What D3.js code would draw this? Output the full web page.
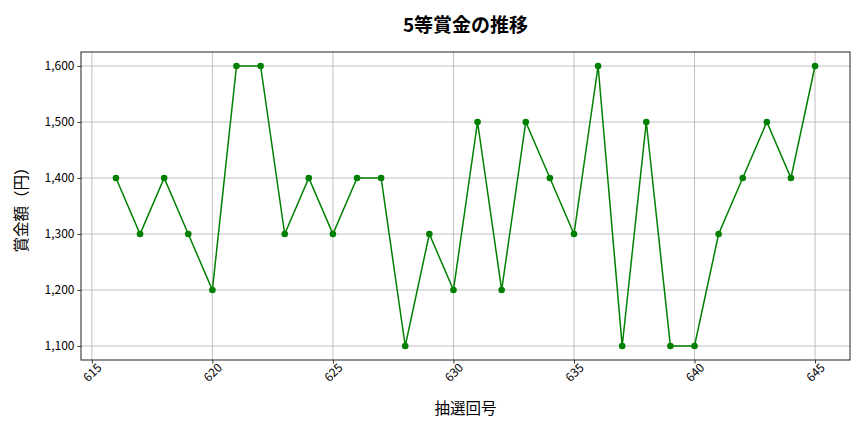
<!DOCTYPE html>
<html>
<head>
<meta charset="utf-8">
<title>5等賞金の推移</title>
<script src="https://d3js.org/d3.v7.min.js"></script>
<style>
  body { margin: 0; background: #fff; }
  text { font-family: "Noto Sans CJK JP", "Noto Sans", sans-serif; }
</style>
</head>
<body>
<div id="chart"></div>
<script>
// data
const draws = [616, 617, 618, 619, 620, 621, 622, 623, 624, 625,
               626, 627, 628, 629, 630, 631, 632, 633, 634, 635,
               636, 637, 638, 639, 640, 641, 642, 643, 644, 645];
const prizes = [1400, 1300, 1400, 1300, 1200, 1600, 1600, 1300, 1400, 1300,
                1400, 1400, 1100, 1300, 1200, 1500, 1200, 1500, 1400, 1300,
                1600, 1100, 1500, 1100, 1100, 1300, 1400, 1500, 1400, 1600];
const xTicks = [615, 620, 625, 630, 635, 640, 645];
const yTicks = [1100, 1200, 1300, 1400, 1500, 1600];

const W = 864, H = 432;
const margin = { top: 52, right: 14, bottom: 72, left: 81 };
const width = W - margin.left - margin.right;
const height = H - margin.top - margin.bottom;

const svg = d3.select('#chart').append('svg')
  .attr('width', W).attr('height', H);

// matplotlib-like 5% margins
const xPad = (d3.max(draws) - d3.min(draws)) * 0.05;
const yPad = (d3.max(prizes) - d3.min(prizes)) * 0.05;
const x = d3.scaleLinear()
  .domain([d3.min(draws) - xPad, d3.max(draws) + xPad])
  .range([0, width]);
const y = d3.scaleLinear()
  .domain([d3.min(prizes) - yPad, d3.max(prizes) + yPad])
  .range([height, 0]);

const g = svg.append('g')
  .attr('transform', `translate(${margin.left},${margin.top})`);

// grid
g.append('g').selectAll('line').data(xTicks).enter().append('line')
  .attr('x1', d => x(d)).attr('x2', d => x(d))
  .attr('y1', 0).attr('y2', height)
  .attr('stroke', '#b0b0b0').attr('stroke-width', 0.8);
g.append('g').selectAll('line').data(yTicks).enter().append('line')
  .attr('x1', 0).attr('x2', width)
  .attr('y1', d => y(d)).attr('y2', d => y(d))
  .attr('stroke', '#b0b0b0').attr('stroke-width', 0.8);

// axes
const xAxis = g.append('g')
  .attr('transform', `translate(0,${height})`)
  .call(d3.axisBottom(x).tickValues(xTicks).tickSize(3.5).tickFormat(d3.format('d')));
xAxis.selectAll('text')
  .attr('font-size', 12)
  .attr('fill', '#000')
  .attr('text-anchor', 'end')
  .attr('dx', '0.1em')
  .attr('dy', '0.55em')
  .attr('transform', 'rotate(-45)');

const yAxis = g.append('g')
  .call(d3.axisLeft(y).tickValues(yTicks).tickSize(3.5).tickFormat(d3.format(',')));
yAxis.selectAll('text').attr('font-size', 12).attr('fill', '#000');

svg.selectAll('.domain').remove();
svg.selectAll('.tick line').attr('stroke', '#000').attr('stroke-width', 0.8);

// frame
g.append('rect')
  .attr('width', width).attr('height', height)
  .attr('fill', 'none').attr('stroke', '#222').attr('stroke-width', 1);

// line + markers
const line = d3.line().x((d, i) => x(draws[i])).y(d => y(d));
g.append('path')
  .datum(prizes)
  .attr('d', line)
  .attr('fill', 'none')
  .attr('stroke', 'green')
  .attr('stroke-width', 1.5);

g.selectAll('.dot').data(prizes).enter().append('circle')
  .attr('class', 'dot')
  .attr('cx', (d, i) => x(draws[i]))
  .attr('cy', d => y(d))
  .attr('r', 3.3)
  .attr('fill', 'green');

// titles
svg.append('text')
  .attr('x', margin.left + width / 2).attr('y', 32)
  .attr('text-anchor', 'middle')
  .attr('font-size', 19).attr('font-weight', 'bold')
  .text('5等賞金の推移');

svg.append('text')
  .attr('x', margin.left + width / 2).attr('y', 414)
  .attr('text-anchor', 'middle')
  .attr('font-size', 15.5)
  .text('抽選回号');

svg.append('text')
  .attr('transform', `translate(27,${margin.top + height / 2}) rotate(-90)`)
  .attr('text-anchor', 'middle')
  .attr('font-size', 15.5)
  .text('賞金額（円）');
</script>
</body>
</html>
